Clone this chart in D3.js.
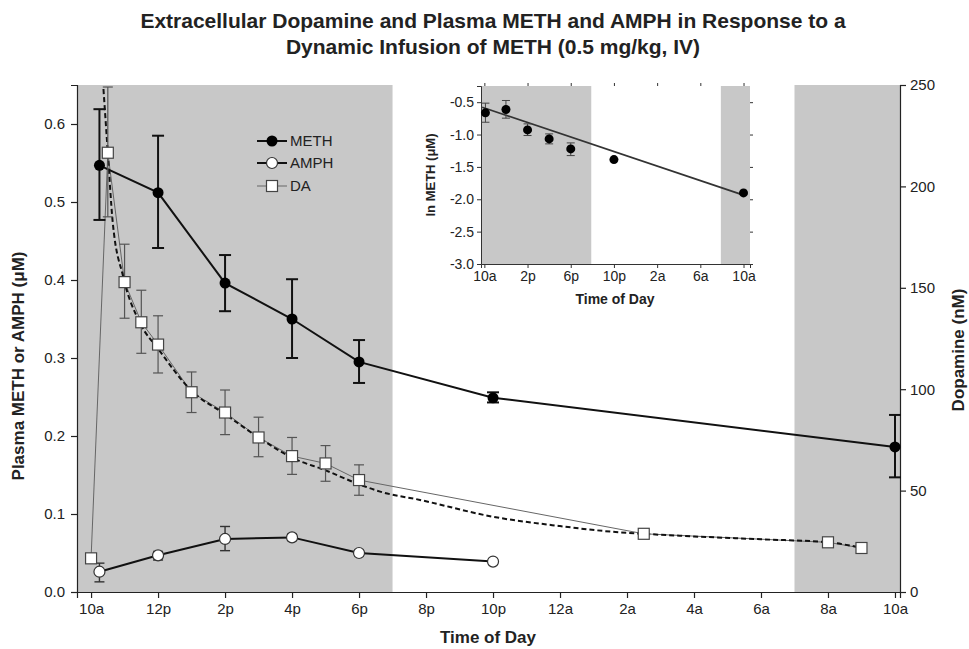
<!DOCTYPE html>
<html>
<head>
<meta charset="utf-8">
<script src="https://cdn.jsdelivr.net/npm/d3@7"></script>
<style>
  html, body { margin: 0; padding: 0; background: #fff; }
  svg { display: block; font-family: "Liberation Sans", Arial, sans-serif; }
</style>
</head>
<body>
<svg id="chart" width="969" height="649"></svg>
<script>
// ---- Data (time in hours from midnight of day 1; 34 = 10a next day) ----
const xTickHours = [10, 12, 14, 16, 18, 20, 22, 24, 26, 28, 30, 32, 34];
const xTickLabels = ["10a", "12p", "2p", "4p", "6p", "8p", "10p", "12a", "2a", "4a", "6a", "8a", "10a"];
const leftTicks = [0.0, 0.1, 0.2, 0.3, 0.4, 0.5, 0.6];
const rightTicks = [0, 50, 100, 150, 200, 250];
const darkPeriods = [[9.58, 19], [31, 34.15]];

// Plasma METH (µM), mean with error bar bounds
const methTime = [10.25, 12, 14, 16, 18, 22, 34];
const methValue = [0.547, 0.512, 0.396, 0.350, 0.295, 0.249, 0.186];
const methLow = [0.477, 0.441, 0.360, 0.300, 0.268, 0.243, 0.147];
const methHigh = [0.619, 0.585, 0.432, 0.401, 0.323, 0.256, 0.227];

// Plasma AMPH (µM)
const amphTime = [10.25, 12, 14, 16, 18, 22];
const amphValue = [0.026, 0.047, 0.068, 0.070, 0.050, 0.039];
const amphLow = [0.013, 0.041, 0.053, 0.066, 0.046, 0.036];
const amphHigh = [0.037, 0.052, 0.084, 0.074, 0.054, 0.042];

// Extracellular dopamine (nM)
const daTime = [10, 10.5, 11, 11.5, 12, 13, 14, 15, 16, 17, 18, 26.5, 32, 33];
const daValue = [16.6, 216.6, 152.8, 133, 122, 98.5, 88.5, 76.2, 67, 63.4, 55.2, 28.7, 24.5, 21.7];
const daLow = [16.6, 185, 135, 117.7, 108, 88.5, 77.6, 66.7, 58, 54.6, 47.7, 27.5, 23.3, 21.0];
const daHigh = [16.6, 249, 171.5, 148.8, 136.2, 108.5, 99.6, 86.2, 76.2, 72.2, 62.7, 29.9, 25.7, 22.4];

// Fitted dopamine decay curve (nM)
const daFitTime = [10.37, 10.5, 10.64, 10.96, 11.46, 12, 13, 14, 15, 16, 17, 18, 18.63, 19.82, 22, 24, 25.5, 26.5, 28, 30, 32, 33];
const daFitValue = [248, 216.6, 183.5, 155.4, 132.7, 120, 99.2, 87.7, 76.2, 66.2, 60, 53.1, 49.5, 45.4, 37.1, 32.5, 29.8, 28.7, 27.4, 26.0, 24.5, 21.8];

// Inset: ln METH (µM) with regression line
const insetTickHours = [10, 14, 18, 22, 26, 30, 34];
const insetTickLabels = ["10a", "2p", "6p", "10p", "2a", "6a", "10a"];
const insetYTicks = [-3.0, -2.5, -2.0, -1.5, -1.0, -0.5];
const insetDark = [[9.69, 19.9], [31.9, 34.6]];
const lnTime = [10.1, 12, 14, 16, 18, 22, 34];
const lnValue = [-0.665, -0.613, -0.928, -1.067, -1.222, -1.387, -1.902];
const lnLow = [-0.81, -0.747, -1.015, -1.144, -1.325, -1.40, -1.915];
const lnHigh = [-0.515, -0.474, -0.835, -0.99, -1.129, -1.374, -1.889];
const regTime = [9.8, 34];
const regValue = [-0.578, -1.935];

// ---- Layout ----
const svg = d3.select("#chart");
const shade = "#c8c8c8";

const x = d3.scaleLinear().domain([9.58, 34.15]).range([77, 900]);
const yL = d3.scaleLinear().domain([0, 0.65]).range([592, 85]);
const yR = d3.scaleLinear().domain([0, 250]).range([592, 85]);

// Title
const title = svg.append("g").attr("font-weight", "bold").attr("font-size", 21).attr("fill", "#222").attr("text-anchor", "middle");
title.append("text").attr("x", 493).attr("y", 28).text("Extracellular Dopamine and Plasma METH and AMPH in Response to a");
title.append("text").attr("x", 493).attr("y", 54).text("Dynamic Infusion of METH (0.5 mg/kg, IV)");

// Dark-phase shading
svg.append("g").selectAll("rect").data(darkPeriods).join("rect")
  .attr("x", d => x(d[0])).attr("width", d => x(d[1]) - x(d[0]))
  .attr("y", yL(0.65)).attr("height", yL(0) - yL(0.65))
  .attr("fill", shade);

// Axes
const axisStyle = g => {
  g.selectAll("path.domain").attr("stroke", "#222").attr("stroke-width", 1.2);
  g.selectAll(".tick line").attr("stroke", "#222").attr("stroke-width", 1.2);
  g.selectAll(".tick text").attr("font-size", 15).attr("fill", "#222")
    .attr("font-family", "'Liberation Sans', Arial, sans-serif");
};
svg.append("g").attr("transform", "translate(0,592)")
  .call(d3.axisBottom(x).tickValues(xTickHours).tickFormat((d, i) => xTickLabels[i]).tickSizeOuter(0).tickSize(6).tickPadding(5))
  .call(axisStyle);
svg.append("g").attr("transform", "translate(77,0)")
  .call(d3.axisLeft(yL).tickValues(leftTicks).tickFormat(d3.format(".1f")).tickSizeOuter(0).tickSize(6).tickPadding(6))
  .call(axisStyle);
svg.append("g").attr("transform", "translate(900,0)")
  .call(d3.axisRight(yR).tickValues(rightTicks).tickSizeOuter(0).tickSize(6).tickPadding(4))
  .call(axisStyle);

// Axis titles
svg.append("text").attr("x", 488).attr("y", 643).attr("text-anchor", "middle")
  .attr("font-weight", "bold").attr("font-size", 17).attr("fill", "#222").text("Time of Day");
svg.append("text").attr("transform", "translate(24,366) rotate(-90)").attr("text-anchor", "middle")
  .attr("font-weight", "bold").attr("font-size", 17).attr("fill", "#222").text("Plasma METH or AMPH (μM)");
svg.append("text").attr("transform", "translate(964,350) rotate(-90)").attr("text-anchor", "middle")
  .attr("font-weight", "bold").attr("font-size", 17).attr("fill", "#222").text("Dopamine (nM)");

// Helpers
const zipPts = (t, v) => t.map((d, i) => [d, v[i]]);
function errorBars(g, t, lo, hi, ys, color, width, cap) {
  const gg = g.append("g").attr("stroke", color).attr("stroke-width", width).attr("fill", "none");
  t.forEach((d, i) => {
    if (hi[i] - lo[i] <= 0) return;
    const cx = x(d), y1 = ys(lo[i]), y2 = ys(hi[i]);
    gg.append("line").attr("x1", cx).attr("x2", cx).attr("y1", y1).attr("y2", y2);
    gg.append("line").attr("x1", cx - cap).attr("x2", cx + cap).attr("y1", y1).attr("y2", y1);
    gg.append("line").attr("x1", cx - cap).attr("x2", cx + cap).attr("y1", y2).attr("y2", y2);
  });
}

const plot = svg.append("g");

// Dopamine: thin connecting line and fitted dashed curve
plot.append("path").datum(zipPts(daTime, daValue))
  .attr("d", d3.line().x(d => x(d[0])).y(d => yR(d[1])))
  .attr("fill", "none").attr("stroke", "#666").attr("stroke-width", 1);
plot.append("path").datum(zipPts(daFitTime, daFitValue))
  .attr("d", d3.line().curve(d3.curveMonotoneX).x(d => x(d[0])).y(d => yR(d[1])))
  .attr("fill", "none").attr("stroke", "#111").attr("stroke-width", 2).attr("stroke-dasharray", "5,3");

// METH and AMPH lines
plot.append("path").datum(zipPts(amphTime, amphValue))
  .attr("d", d3.line().x(d => x(d[0])).y(d => yL(d[1])))
  .attr("fill", "none").attr("stroke", "#111").attr("stroke-width", 2);
plot.append("path").datum(zipPts(methTime, methValue))
  .attr("d", d3.line().x(d => x(d[0])).y(d => yL(d[1])))
  .attr("fill", "none").attr("stroke", "#111").attr("stroke-width", 2);

// Error bars
errorBars(plot, daTime, daLow, daHigh, yR, "#555", 1.2, 5);
errorBars(plot, amphTime, amphLow, amphHigh, yL, "#333", 1.4, 5);
errorBars(plot, methTime, methLow, methHigh, yL, "#111", 2, 6);

// Markers
plot.append("g").selectAll("rect").data(zipPts(daTime, daValue)).join("rect")
  .attr("x", d => x(d[0]) - 5.5).attr("y", d => yR(d[1]) - 5.5)
  .attr("width", 11).attr("height", 11)
  .attr("fill", "#fff").attr("stroke", "#444").attr("stroke-width", 1.2);
plot.append("g").selectAll("circle").data(zipPts(amphTime, amphValue)).join("circle")
  .attr("cx", d => x(d[0])).attr("cy", d => yL(d[1])).attr("r", 5.5)
  .attr("fill", "#fff").attr("stroke", "#333").attr("stroke-width", 1.2);
plot.append("g").selectAll("circle").data(zipPts(methTime, methValue)).join("circle")
  .attr("cx", d => x(d[0])).attr("cy", d => yL(d[1])).attr("r", 5.5)
  .attr("fill", "#000");

// Legend
const legend = svg.append("g");
const legendRows = [
  { label: "METH", y: 141 },
  { label: "AMPH", y: 163 },
  { label: "DA", y: 186 }
];
legendRows.forEach((r, i) => {
  const g = legend.append("g");
  g.append("line").attr("x1", 257).attr("x2", 287).attr("y1", r.y).attr("y2", r.y)
    .attr("stroke", i === 2 ? "#666" : "#111").attr("stroke-width", i === 2 ? 1 : 2);
  if (i === 0) g.append("circle").attr("cx", 272).attr("cy", r.y).attr("r", 5.5).attr("fill", "#000");
  if (i === 1) g.append("circle").attr("cx", 272).attr("cy", r.y).attr("r", 5.5).attr("fill", "#fff").attr("stroke", "#333").attr("stroke-width", 1.2);
  if (i === 2) g.append("rect").attr("x", 266.5).attr("y", r.y - 5.5).attr("width", 11).attr("height", 11).attr("fill", "#fff").attr("stroke", "#444").attr("stroke-width", 1.2);
  g.append("text").attr("x", 290).attr("y", r.y + 5).attr("font-size", 15).attr("fill", "#222").text(r.label);
});

// ---- Inset: ln METH vs time ----
const xi = d3.scaleLinear().domain([9.69, 34.6]).range([481, 750]);
const yi = d3.scaleLinear().domain([-3, -0.25]).range([264, 86]);
const inset = svg.append("g");
inset.append("g").selectAll("rect").data(insetDark).join("rect")
  .attr("x", d => xi(d[0])).attr("width", d => xi(d[1]) - xi(d[0]))
  .attr("y", yi(-0.25)).attr("height", yi(-3) - yi(-0.25))
  .attr("fill", shade);

const insetAxisStyle = g => {
  g.selectAll("path.domain").attr("stroke", "#333").attr("stroke-width", 1);
  g.selectAll(".tick line").attr("stroke", "#333").attr("stroke-width", 1);
  g.selectAll(".tick text").attr("font-size", 14).attr("fill", "#222")
    .attr("font-family", "'Liberation Sans', Arial, sans-serif");
};
const minus = d => (d < 0 ? "-" : "") + Math.abs(d).toFixed(1);
inset.append("g").attr("transform", "translate(0,264)")
  .call(d3.axisBottom(xi).tickValues(insetTickHours).tickFormat((d, i) => insetTickLabels[i]).tickSizeOuter(0).tickSize(4).tickPadding(3))
  .call(insetAxisStyle);
inset.append("g").attr("transform", "translate(481,0)")
  .call(d3.axisLeft(yi).tickValues(insetYTicks).tickFormat(minus).tickSizeOuter(0).tickSize(4).tickPadding(3))
  .call(insetAxisStyle);
// mirror ticks on top and right edges
inset.append("g").attr("transform", "translate(0,86)")
  .call(d3.axisTop(xi).tickValues(insetTickHours).tickFormat("").tickSizeOuter(0).tickSize(3))
  .call(g => g.select("path.domain").remove())
  .call(insetAxisStyle);
inset.append("g").attr("transform", "translate(750,0)")
  .call(d3.axisRight(yi).tickValues(insetYTicks).tickFormat("").tickSizeOuter(0).tickSize(3))
  .call(g => g.select("path.domain").remove())
  .call(insetAxisStyle);

inset.append("text").attr("x", 615).attr("y", 304).attr("text-anchor", "middle")
  .attr("font-weight", "bold").attr("font-size", 14).attr("fill", "#222").text("Time of Day");
inset.append("text").attr("transform", "translate(435,175) rotate(-90)").attr("text-anchor", "middle")
  .attr("font-weight", "bold").attr("font-size", 13).attr("fill", "#222").text("ln METH (μM)");

inset.append("path").datum(zipPts(regTime, regValue))
  .attr("d", d3.line().x(d => xi(d[0])).y(d => yi(d[1])))
  .attr("stroke", "#333").attr("stroke-width", 1.8).attr("fill", "none");
const ig = inset.append("g").attr("stroke", "#444").attr("stroke-width", 1);
lnTime.forEach((t, i) => {
  const cx = xi(t), y1 = yi(lnLow[i]), y2 = yi(lnHigh[i]);
  if (y1 - y2 < 8) return;
  ig.append("line").attr("x1", cx).attr("x2", cx).attr("y1", y1).attr("y2", y2);
  ig.append("line").attr("x1", cx - 4).attr("x2", cx + 4).attr("y1", y1).attr("y2", y1);
  ig.append("line").attr("x1", cx - 4).attr("x2", cx + 4).attr("y1", y2).attr("y2", y2);
});
inset.append("g").selectAll("circle").data(zipPts(lnTime, lnValue)).join("circle")
  .attr("cx", d => xi(d[0])).attr("cy", d => yi(d[1])).attr("r", 4.5)
  .attr("fill", "#000");
</script>
</body>
</html>
